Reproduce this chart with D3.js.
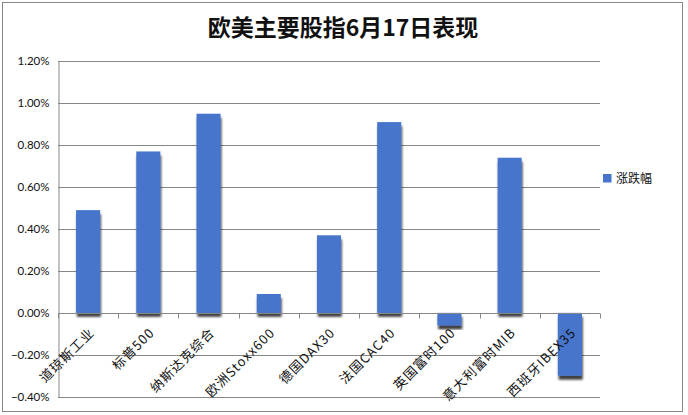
<!DOCTYPE html>
<html><head><meta charset="utf-8">
<script src="https://cdn.jsdelivr.net/npm/d3@7"></script>
<style>html,body{margin:0;padding:0;background:#fff;}svg{display:block;}</style>
</head><body>
<svg id="c" width="688" height="415"></svg>
<script>
const categories = ["道琼斯工业","标普500","纳斯达克综合","欧洲Stoxx600","德国DAX30","法国CAC40","英国富时100","意大利富时MIB","西班牙IBEX35"];
const values = [0.49, 0.77, 0.95, 0.09, 0.37, 0.91, -0.06, 0.74, -0.30];
const yTicks = [-0.4, -0.2, 0, 0.2, 0.4, 0.6, 0.8, 1.0, 1.2];
const seriesName = "涨跌幅";
const title = "欧美主要股指6月17日表现";

const svg = d3.select("#c");
const defs = svg.append("defs");
const f = defs.append("filter").attr("id","sh").attr("x","-30%").attr("y","-30%").attr("width","160%").attr("height","160%");
f.append("feDropShadow").attr("dx",0.8).attr("dy",4).attr("stdDeviation",1.3).attr("flood-color","#000").attr("flood-opacity",0.75);

// outer border
svg.append("rect").attr("x",2.5).attr("y",2.5).attr("width",680).attr("height",409).attr("fill","#fff").attr("stroke","#888").attr("stroke-width",1);

const L = 58, R = 600;
const x = d3.scaleBand().domain(categories).range([L, R]).paddingInner(0.6).paddingOuter(0.3);
const xb = d3.scaleBand().domain(categories).range([L, R]);
const y = d3.scaleLinear().domain([-0.4, 1.2]).range([396.7, 61.3]);

// gridlines
svg.append("g").selectAll("line").data(yTicks).join("line")
  .attr("x1", L).attr("x2", R)
  .attr("y1", d => Math.round(y(d)) + 0.5).attr("y2", d => Math.round(y(d)) + 0.5)
  .attr("stroke", "#878787").attr("stroke-width", 1);

// y axis
const ya = svg.append("g").attr("transform", `translate(${L + 0.5},0)`)
  .call(d3.axisLeft(y).tickValues(yTicks).tickFormat(d => d3.format(".2f")(d) + "%").tickSize(0).tickPadding(9));
ya.select(".domain").attr("stroke", "#878787");
ya.selectAll("text").attr("font-family", "Lato, 'Open Sans', sans-serif").attr("font-size", 11.5).attr("fill", "#111");

// bars
svg.append("g").selectAll("rect").data(values).join("rect")
  .attr("x", (d, i) => x(categories[i]))
  .attr("width", x.bandwidth())
  .attr("y", d => y(Math.max(0, d)))
  .attr("height", d => Math.abs(y(d) - y(0)))
  .attr("fill", "#4775CC")
  .attr("filter", "url(#sh)");

// x axis at zero
const zy = Math.round(y(0)) + 0.5;
const xa = svg.append("g").attr("transform", `translate(0,${zy})`);
xa.append("line").attr("x1", L).attr("x2", R).attr("stroke", "#878787");
const bounds = categories.map(c => xb(c)).concat([R]);
xa.selectAll("line.t").data(bounds).join("line").attr("class","t")
  .attr("x1", d => Math.round(d) + 0.5).attr("x2", d => Math.round(d) + 0.5)
  .attr("y1", 0).attr("y2", 5).attr("stroke", "#878787");

// x labels
svg.append("g").selectAll("text").data(categories).join("text")
  .attr("transform", c => `translate(${xb(c) + xb.bandwidth()/2 + 7},${zy + 20}) rotate(-45)`)
  .attr("text-anchor", "end")
  .attr("font-family", "'Noto Sans CJK SC', sans-serif")
  .attr("font-size", 13)
  .attr("letter-spacing", 1.1)
  .attr("fill", "#111")
  .text(c => c);

// title
svg.append("text").attr("x", 343).attr("y", 36).attr("text-anchor", "middle")
  .attr("font-family", "'Noto Sans CJK SC', sans-serif").attr("font-weight", "bold")
  .attr("font-size", 23).attr("fill", "#111").text(title);

// legend
svg.append("rect").attr("x", 603).attr("y", 174).attr("width", 8.5).attr("height", 8.5).attr("fill", "#4775CC");
svg.append("text").attr("x", 616).attr("y", 183).attr("font-family", "'Noto Sans CJK SC', sans-serif")
  .attr("font-size", 12).attr("fill", "#111").text(seriesName);
</script>
</body></html>
